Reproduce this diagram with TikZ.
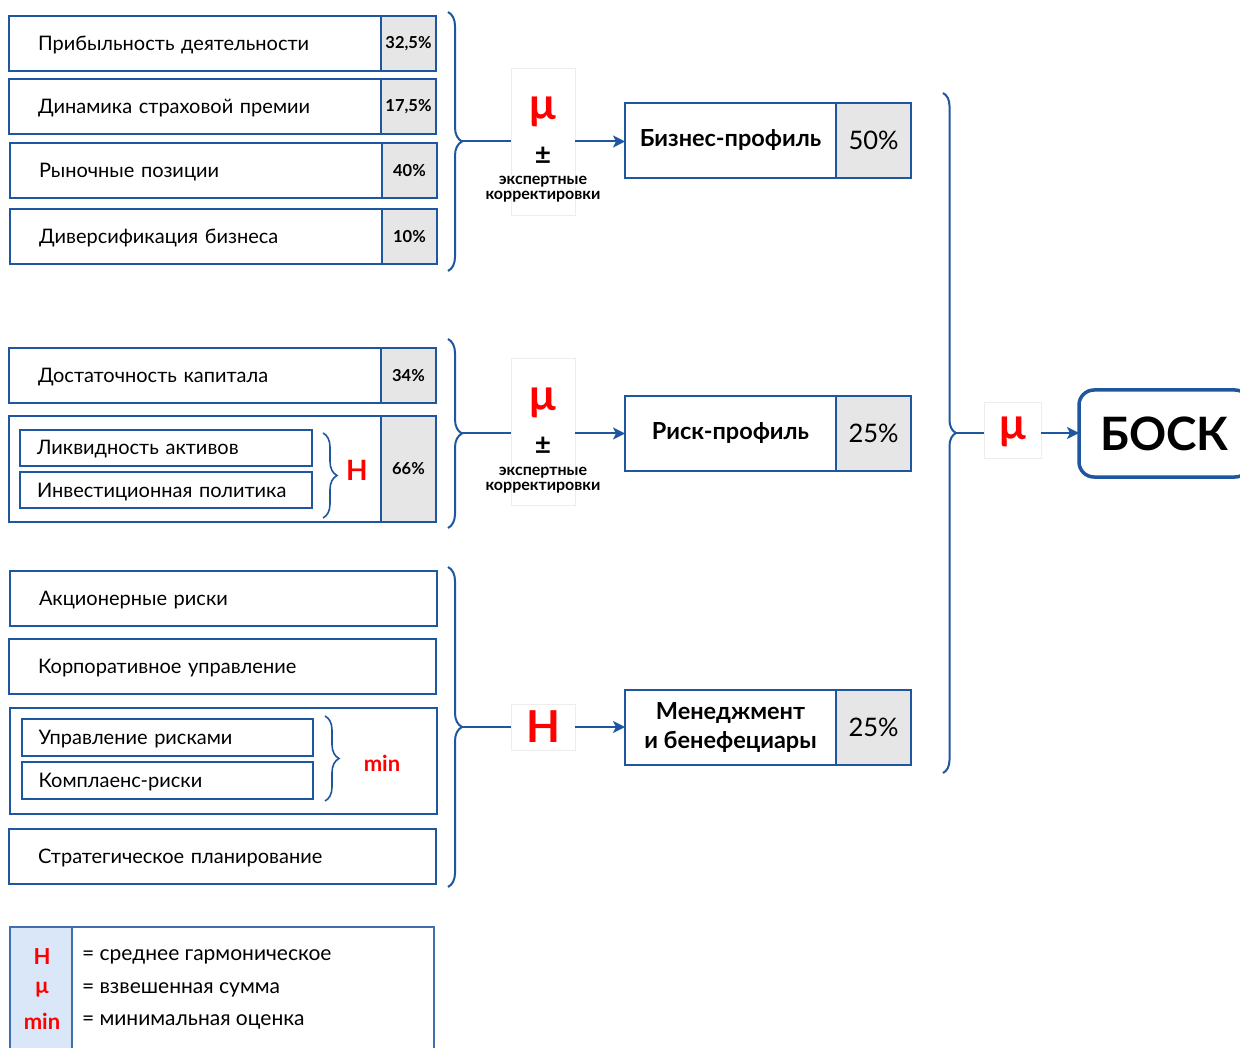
\documentclass[tikz,border=0pt]{standalone}
\usepackage{fontspec}
\setmainfont{Lato}
\usetikzlibrary{decorations.pathreplacing,arrows.meta}
\definecolor{bl}{HTML}{1F56A0}
\definecolor{gr}{HTML}{E6E6E6}
\definecolor{rd}{HTML}{FF0000}
\definecolor{lb}{HTML}{DAE7F9}
\newcommand\fsz[2]{\fontsize{#1}{#2}\selectfont}
\begin{document}
\begin{tikzpicture}[x=1pt,y=-1pt, every node/.style={outer sep=0pt},
  crit/.style={draw=bl, line width=2.5pt, anchor=north west, minimum height=55pt,
    minimum width=372pt, text width=314pt, inner xsep=29pt, inner ysep=0pt,
    text height=14pt, text depth=0pt,
    align=left, font=\fsz{20}{24}},
  critw/.style={crit, minimum width=427pt, text width=369pt},
  pct/.style={draw=bl, fill=gr, line width=2.5pt, anchor=north west, minimum width=55pt,
    minimum height=55pt, inner sep=0pt, font=\fsz{16.5}{18}\bfseries},
  inner/.style={draw=bl, line width=1.4pt, anchor=north west, minimum height=36pt,
    minimum width=292pt, text width=258pt, inner xsep=17pt, inner ysep=0pt,
    text height=14pt, text depth=0pt,
    align=left, font=\fsz{20}{24}},
  prof/.style={draw=bl, line width=2.5pt, anchor=north west, minimum height=75pt,
    minimum width=211pt, inner sep=0pt, align=center, font=\fsz{23.5}{29}\bfseries},
  profp/.style={draw=bl, fill=gr, line width=2.5pt, anchor=north west, minimum height=75pt,
    minimum width=75pt, inner sep=0pt, font=\fsz{25.5}{28}},
  brc/.style={draw=bl, line width=2pt, decorate, decoration={brace, amplitude=14pt}},
  sbrc/.style={draw=bl, line width=1.6pt, decorate, decoration={brace, amplitude=14pt}},
  mubox/.style={draw=black!7, fill=white, line width=0.6pt, inner sep=0pt},
  mu/.style={text=rd, font=\fsz{44}{44}\bfseries, inner sep=0pt},
  pm/.style={font=\fsz{28}{28}\bfseries, inner sep=0pt},
  exp/.style={font=\fsz{16}{15}\bfseries, align=center, inner sep=0pt},
  conn/.style={draw=bl, line width=2pt},
  arr/.style={conn, -{Stealth[length=12pt, width=12pt, inset=3pt]}},
  redt/.style={text=rd, font=\fsz{28}{28}\bfseries, inner sep=0pt},
  legt/.style={anchor=west, font=\fsz{21}{24}, inner sep=0pt}
]
\useasboundingbox (0,0) rectangle (1240,1048);
\clip (0,0) rectangle (1240,1048);

% group 1
\node[crit] (r1) at (9,16) {Прибыльность деятельности};
\node[pct] (p1) at (381,16) {32,5\%};
\node[crit] (r2) at (9,79) {Динамика страховой премии};
\node[pct] (p2) at (381,79) {17,5\%};
\node[crit] (r3) at (10,143) {Рыночные позиции};
\node[pct] (p3) at (382,143) {40\%};
\node[crit] (r4) at (10,209) {Диверсификация бизнеса};
\node[pct] (p4) at (382,209) {10\%};
\draw[brc] (448,12) -- (448,271);
\coordinate (b1) at (462,141.5);

\node[mubox, minimum width=64pt, minimum height=147pt] (m1) at (543,141.5) {};
\node[mu] (m1a) at (543,112) {μ};
\node[pm] (m1b) at (543,156) {±};
\node[exp] (m1c) at (543,189.5) {экспертные\\корректировки};
\node[prof] (bp) at (625,103) {Бизнес-профиль};
\node[profp] (bpp) at (836,103) {50\%};
\draw[conn] (b1) -- (m1.west |- b1);
\draw[arr] (m1.east |- b1) -- (bp.west |- b1);

% group 2
\node[crit] (r5) at (9,348) {Достаточность капитала};
\node[pct] (p5) at (381,348) {34\%};
\node[crit, minimum height=106pt] (r6) at (9,416) {};
\node[pct, minimum height=106pt] (p6) at (381,416) {66\%};
\node[inner] (i1) at (20,430) {Ликвидность активов};
\node[inner] (i2) at (20,472) {Инвестиционная политика};
\draw[sbrc] (323,433) -- (323,518);
\node[redt] (h1) at (357,470) {H};
\draw[brc] (448,339) -- (448,528);
\coordinate (b2) at (462,433.5);

\node[mubox, minimum width=64pt, minimum height=147pt] (m2) at (543,431.5) {};
\node[mu] (m2a) at (543,403) {μ};
\node[pm] (m2b) at (543,446) {±};
\node[exp] (m2c) at (543,480.5) {экспертные\\корректировки};
\node[prof] (rp) at (625,396) {Риск-профиль};
\node[profp] (rpp) at (836,396) {25\%};
\draw[conn] (b2) -- (m2.west |- b2);
\draw[arr] (m2.east |- b2) -- (rp.west |- b2);

% group 3
\node[critw] (r7) at (10,571) {Акционерные риски};
\node[critw] (r8) at (9,639) {Корпоративное управление};
\node[critw, minimum height=106pt] (r9) at (10,708) {};
\node[inner, minimum width=291pt, minimum height=37pt, text width=258pt, inner xsep=16.5pt] (i3) at (22,719) {Управление рисками};
\node[inner, minimum width=291pt, minimum height=37pt, text width=258pt, inner xsep=16.5pt] (i4) at (22,762) {Комплаенс-риски};
\draw[sbrc] (325,716) -- (325,801);
\node[text=rd, font=\fsz{22}{22}\bfseries, inner sep=0pt] (mn) at (382,763) {min};
\node[critw] (r10) at (9,829) {Стратегическое планирование};
\draw[brc] (448,567) -- (448,887);
\coordinate (b3) at (462,727);

\node[mubox, minimum width=64pt, minimum height=46pt, text=rd, font=\fsz{44}{44}\bfseries] (m3) at (543,727) {H};
\node[prof] (mp) at (625,690) {Менеджмент\\и бенефециары};
\node[profp] (mpp) at (836,690) {25\%};
\draw[conn] (b3) -- (m3.west |- b3);
\draw[arr] (m3.east |- b3) -- (mp.west |- b3);

% big brace
\draw[brc, decoration={brace, amplitude=13pt}] (943,93) -- (943,773);
\coordinate (b4) at (956,433);
\node[mubox, minimum width=57pt, minimum height=56pt] (m4) at (1012.5,430) {};
\node[mu] (m4a) at (1012.5,432) {μ};
\node[draw=bl, line width=3.5pt, rounded corners=15pt, minimum width=171pt, minimum height=87pt,
  inner sep=0pt, font=\fsz{46}{46}\bfseries] (bk) at (1164.5,433.5) {БОСК};
\draw[conn] (b4) -- (m4.west |- b4);
\draw[arr] (m4.east |- b4) -- (bk.west |- b4);

% legend
\node[draw=bl!85, line width=1.4pt, anchor=north west, minimum width=424pt, minimum height=150pt, inner sep=0pt] (lg) at (10,927) {};
\node[draw=bl!85, fill=lb, line width=1.4pt, anchor=north west, minimum width=62pt, minimum height=150pt, inner sep=0pt] (lgk) at (10,927) {};
\node[text=rd, font=\fsz{22}{22}\bfseries, inner sep=0pt] (k1) at (42,957) {H};
\node[text=rd, font=\fsz{22}{22}\bfseries, inner sep=0pt] (k2) at (42,990) {μ};
\node[text=rd, font=\fsz{22}{22}\bfseries, inner sep=0pt] (k3) at (42,1021) {min};
\node[legt] (d1) at (82,957) {= среднее гармоническое};
\node[legt] (d2) at (82,990) {= взвешенная сумма};
\node[legt] (d3) at (82,1022) {= минимальная оценка};
\end{tikzpicture}
\end{document}
